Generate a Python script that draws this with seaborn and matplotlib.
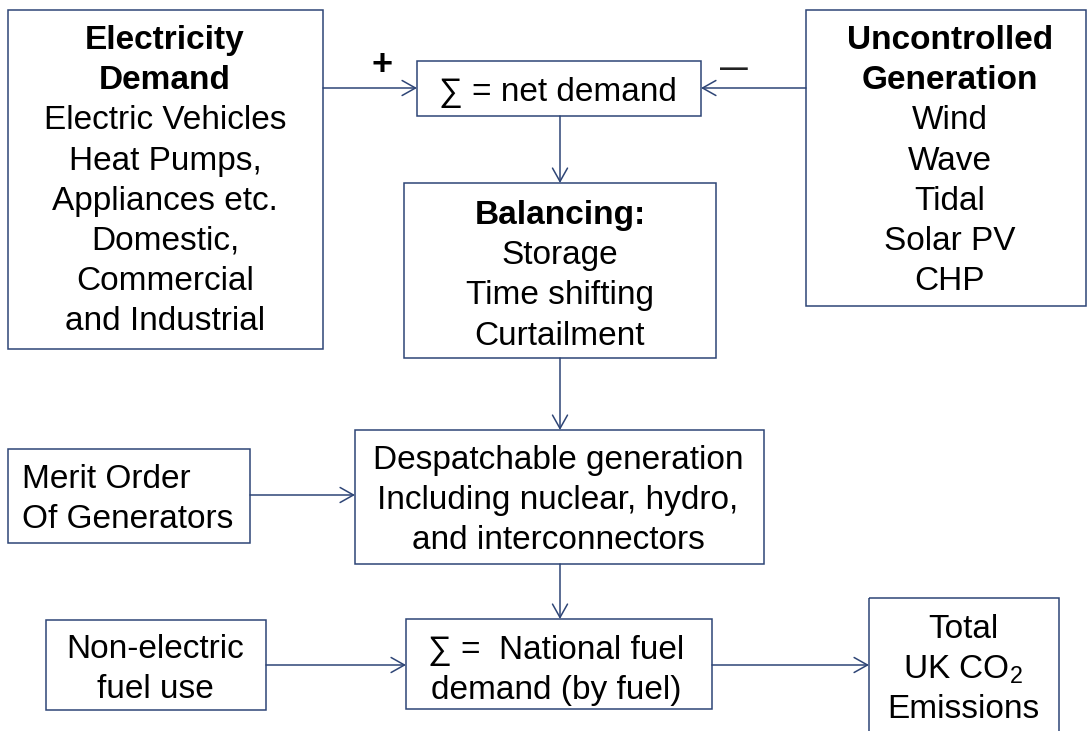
import matplotlib
matplotlib.use("Agg")
import matplotlib.pyplot as plt
import seaborn as sns
from matplotlib.patches import Rectangle

sns.set_theme(style="white")
plt.rcParams['font.family'] = ['Liberation Sans', 'DejaVu Sans']
plt.rcParams['mathtext.fontset'] = 'custom'
plt.rcParams['mathtext.rm'] = 'Liberation Sans'
plt.rcParams['mathtext.it'] = 'Liberation Sans'

# ---- content ----
demand_title = ["Electricity", "Demand"]
demand_lines = ["Electric Vehicles", "Heat Pumps,", "Appliances etc.", "Domestic,",
                "Commercial", "and Industrial"]
uncontrolled_title = ["Uncontrolled", "Generation"]
uncontrolled_lines = ["Wind", "Wave", "Tidal", "Solar PV", "CHP"]
net_lines = ["\u2211 = net demand"]
balancing_title = ["Balancing:"]
balancing_lines = ["Storage", "Time shifting", "Curtailment"]
merit_lines = ["Merit Order", "Of Generators"]
despatch_lines = ["Despatchable generation", "Including nuclear, hydro,", "and interconnectors"]
nonelec_lines = ["Non-electric", "fuel use"]
national_lines = ["\u2211 =  National fuel", "demand (by fuel)"]
co2_lines = ["Total", r"UK CO$_{2}$", "Emissions"]
sign_labels = ["+", "\u2014"]

# ---- layout ----
W, H = 1088, 731
fig = plt.figure(figsize=(W / 100, H / 100), dpi=100)
ax = fig.add_axes([0, 0, 1, 1])
ax.set_xlim(0, W)
ax.set_ylim(H, 0)
ax.axis('off')

EDGE = '#2E4576'
FS = 24
LS = 40.2
CAP = FS * 100 / 72 * 0.716  # cap height in px

def box(x0, y0, x1, y1):
    ax.add_patch(Rectangle((x0, y0), x1 - x0, y1 - y0, fill=False,
                           edgecolor=EDGE, lw=1.1, zorder=2))

def lines(x, y0, bold, normal, ha='center'):
    y = y0
    for t in bold:
        ax.text(x, y + CAP / 2, t, ha=ha, va='baseline', fontsize=FS,
                fontweight='bold', color='black')
        y += LS
    for t in normal:
        ax.text(x, y + CAP / 2, t, ha=ha, va='baseline', fontsize=FS, color='black')
        y += LS

def arrow(x0, y0, x1, y1):
    ax.annotate('', xy=(x1, y1), xytext=(x0, y0),
                arrowprops=dict(arrowstyle='->,head_length=0.8,head_width=0.45',
                                color=EDGE, lw=1.1, shrinkA=0, shrinkB=0))

# boxes
box(8, 10, 323, 349)
box(417, 61, 701, 116)
box(806, 10, 1086, 306)
box(404, 183, 716, 358)
box(8, 449, 250, 543)
box(355, 430, 764, 564)
box(46, 620, 266, 710)
box(406, 619, 712, 709)
box(869, 598, 1059, 740)

# text
lines(165, 37, demand_title, demand_lines)
lines(950, 37, uncontrolled_title, uncontrolled_lines)
lines(558, 89, [], net_lines)
lines(560, 212, balancing_title, balancing_lines)
lines(22, 476, [], merit_lines, ha='left')
lines(558, 457, [], despatch_lines)
lines(155, 646, [], nonelec_lines)
lines(556, 647, [], national_lines)
lines(963, 626, [], co2_lines)

ax.text(382.5, 61, sign_labels[0], ha='center', va='center_baseline', fontsize=26,
        fontweight='bold', color='black')
ax.text(733.5, 66, sign_labels[1], ha='center', va='center_baseline', fontsize=20,
        fontweight='bold', color='#222222')

# arrows
arrow(323, 88, 417, 88)
arrow(806, 88, 701, 88)
arrow(560, 116, 560, 183)
arrow(560, 358, 560, 430)
arrow(250, 495, 355, 495)
arrow(560, 564, 560, 619)
arrow(266, 665, 406, 665)
arrow(712, 665, 869, 665)

fig.savefig('out.png', dpi=100, facecolor='white')
